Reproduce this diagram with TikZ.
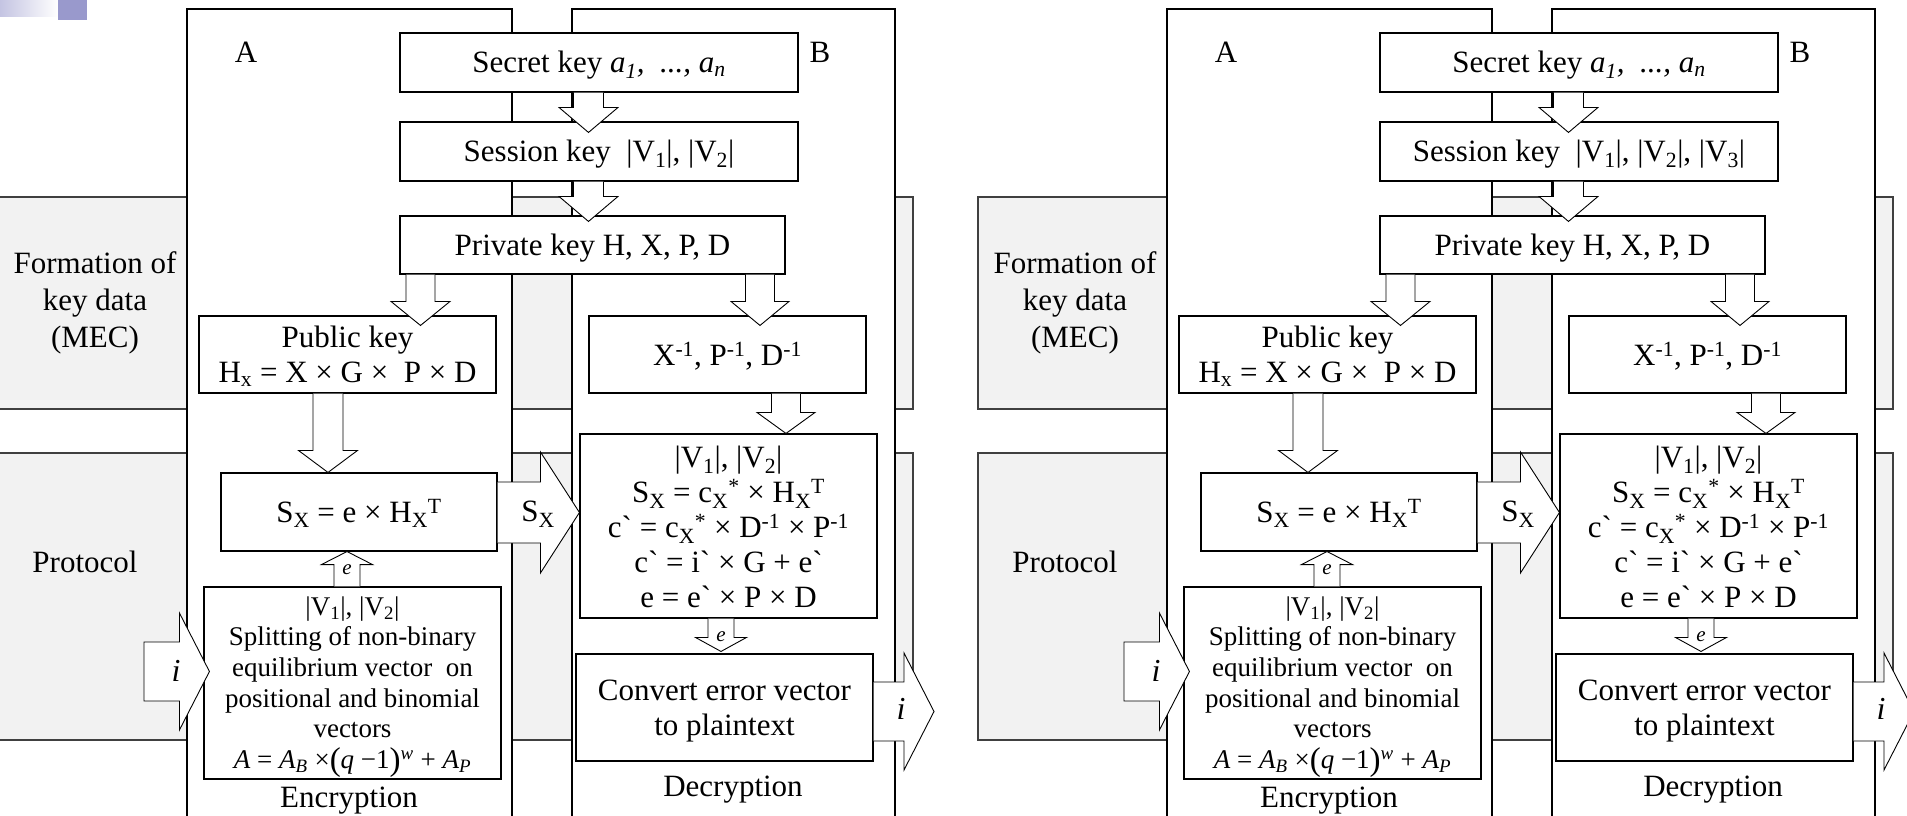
\documentclass[tikz,border=0pt]{standalone}
\usepackage{fontspec}
\setmainfont{Liberation Serif}
\newfontfamily\plainrm{Liberation Serif}
\usetikzlibrary{calc}

\definecolor{bandgray}{HTML}{F2F2F2}
\definecolor{bandedge}{HTML}{404040}
\definecolor{barlav}{HTML}{C4C4E2}
\definecolor{barsq}{HTML}{9999CC}

% small text helpers
\newcommand\grv{{\plainrm\symbol{96}}}
\newcommand\sbs[1]{\textsubscript{#1}}
\newcommand\sps[1]{\textsuperscript{#1}}
\newcommand\bigpar[1]{{\fontsize{33}{33}\selectfont\raisebox{-2pt}{#1}}}
% a line whose height is the capital height (optionally enlarged) and with no depth,
% so that boxes centre their text on the capitals
\newcommand\cl[2][0pt]{\raisebox{0pt}[\dimexpr\fontcharht\font`H+#1\relax][0pt]{#2}}
% a last line without depth
\newcommand\nd[1]{\raisebox{0pt}[\height][0pt]{#1}}

% vertical block arrow:
% #1 source anchor, #2 target anchor, #3 x of axis, #4 overshoot past target edge,
% #5 head length, #6 shaft half width, #7 head half width, #8 direction (1 down, -1 up)
\newcommand\vblock[8]{%
  \draw[blockarrow]
    ({#3-#6},0 |- #1)
    -- ($({#3-#6},0 |- #2)+(0,{#8*(#4-#5)})$)
    -- ($({#3-#7},0 |- #2)+(0,{#8*(#4-#5)})$)
    -- ($({#3},0 |- #2)+(0,{#8*(#4)})$)
    -- ($({#3+#7},0 |- #2)+(0,{#8*(#4-#5)})$)
    -- ($({#3+#6},0 |- #2)+(0,{#8*(#4-#5)})$)
    -- ({#3+#6},0 |- #1);
}

% right-pointing block arrow:
% #1 path ending, #2 source, #3 target, #4 y of axis, #5 overshoot,
% #6 head length, #7 shaft half width, #8 head half width
\newcommand\hblock[8][]{%
  \draw[blockarrow]
    (#2 |- 0,{#4-#7})
    -- ($(#3 |- 0,{#4-#7})+({#5-#6},0)$)
    -- ($(#3 |- 0,{#4-#8})+({#5-#6},0)$)
    -- ($(#3 |- 0,{#4})+({#5},0)$)
    -- ($(#3 |- 0,{#4+#8})+({#5-#6},0)$)
    -- ($(#3 |- 0,{#4+#7})+({#5-#6},0)$)
    -- (#2 |- 0,{#4+#7}) #1;
}

% one complete A/B scheme: #1 name prefix, #2 horizontal offset, #3 session key text
\newcommand\drawpanel[3]{%
  % stage bands
  \draw[band] ({#2-2},197) rectangle ({#2+913},409);
  \draw[band] ({#2-2},453) rectangle ({#2+913},740);
  \node[lbl] (#1form) at ({#2+95},300.6) {\cl{Formation of}\\key data\\\nd{(MEC)}};
  \node[lbl] (#1prot) at ({#2+85},562) {\cl{Protocol}};
  % party columns
  \draw[column] ({#2+187},9) rectangle ({#2+512},840);
  \draw[column] ({#2+572},9) rectangle ({#2+895},840);
  \node[lbl] (#1pa) at ({#2+246},52) {\cl{A}};
  \node[lbl] (#1pb) at ({#2+820},52) {\cl{B}};
  % key generation
  \node[kbox, minimum width=398pt, minimum height=59pt] (#1sec) at ({#2+599},62.5)
    {\cl{Secret key \textit{a\sbs{1},\ \ ..., a\sbs{n}}}};
  \node[kbox, minimum width=398pt, minimum height=59pt] (#1ses) at ({#2+599},151.5) {\cl{#3}};
  \node[kbox, minimum width=385pt, minimum height=58pt] (#1prv) at ({#2+592.5},245)
    {\cl{Private key H, X, P, D}};
  \node[kbox, minimum width=297pt, minimum height=77pt] (#1pub) at ({#2+347.5},354.5)
    {\cl[1pt]{Public key}\\\nd{H\sbs{x} = X × G ×\ \ P × D}};
  \node[kbox, minimum width=277pt, minimum height=77pt] (#1inv) at ({#2+727.5},354.5)
    {\cl[1pt]{X\sps{-1}, P\sps{-1}, D\sps{-1}}};
  % protocol
  \node[kbox, minimum width=276pt, minimum height=78pt] (#1sx) at ({#2+359},512)
    {\cl{S\sbs{X} = e × H\sbs{X}\sps{T}}};
  \node[kbox, font=\fontsize{27}{30.6}\selectfont, minimum width=297pt, minimum height=192pt]
    (#1enc) at ({#2+352.5},683)
    {\cl{|V\sbs{1}|, |V\sbs{2}|}\\Splitting of non-binary\\equilibrium vector\ \ on\\positional and binomial\\vectors\\
     \nd{\textit{A} = \textit{A}\sbs{\textit{B}} ×\bigpar{(}\textit{q} −1\bigpar{)}\sps{\textit{w}} + \textit{A}\sbs{\textit{P}}}};
  \node[kbox, minimum width=297pt, minimum height=184pt] (#1dec) at ({#2+728.5},526)
    {\cl[2.5pt]{|V\sbs{1}|, |V\sbs{2}|}\\S\sbs{X} = c\sbs{X}\sps{*} × H\sbs{X}\sps{T}\\
     c\grv{} = c\sbs{X}\sps{*} × D\sps{-1} × P\sps{-1}\\c\grv{} = i\grv{} × G + e\grv{}\\\nd{e = e\grv{} × P × D}};
  \node[kbox, minimum width=297pt, minimum height=107pt] (#1cnv) at ({#2+724.5},707.5)
    {\cl{Convert error vector}\\\nd{to plaintext}};
  \node[lbl] (#1encl) at ({#2+349},797.8) {\cl{Encryption}};
  \node[lbl] (#1decl) at ({#2+733},786) {\cl{Decryption}};
  \coordinate (#1in) at ({#2+144},671.5);
  \coordinate (#1out) at ({#2+934},711.5);
  % flows
  \vblock{#1sec.south}{#1ses.north}{#2+588.5}{11}{25}{15}{29.5}{1}
  \vblock{#1ses.south}{#1prv.north}{#2+588.5}{6}{25}{15}{29.5}{1}
  \vblock{#1prv.south}{#1pub.north}{#2+420.5}{10}{24}{14.5}{29.5}{1}
  \vblock{#1prv.south}{#1inv.north}{#2+760}{10}{24}{14.5}{29}{1}
  \vblock{#1pub.south}{#1sx.north}{#2+328}{0}{22}{15}{29.5}{1}
  \vblock{#1inv.south}{#1dec.north}{#2+786}{0}{21}{14.5}{29}{1}
  \vblock{#1enc.north}{#1sx.south}{#2+347}{0}{13}{13}{25.5}{-1}
  \vblock{#1dec.south}{#1cnv.north}{#2+721}{-2}{14}{13}{25.5}{1}
  \hblock[-- cycle]{#1in}{#1enc.west}{671.5}{6}{30}{29.5}{58.5}
  \hblock{#1sx.east}{#1dec.west}{512.5}{0}{39}{30.5}{60.5}
  \hblock{#1cnv.east}{#1out}{711.5}{0}{30}{29.5}{58.5}
  \node[elbl] (#1eup) at ({#2+347},570) {e};
  \node[elbl] (#1edn) at ({#2+721},637) {e};
  \node[ilbl] (#1iin) at ({#2+176},671) {\cl{i}};
  \node[ilbl] (#1iout) at ({#2+901},709.5) {\cl{i}};
  \node[lbl] (#1sxl) at ({#2+538},511.7) {\cl{S\sbs{X}}};
}

\begin{document}
\begin{tikzpicture}[x=1pt, y=-1pt,
  kbox/.style={draw=black, line width=1.1pt, fill=white, inner sep=0pt, align=center,
               font=\fontsize{31}{35}\selectfont},
  column/.style={draw=black, line width=1.1pt, fill=white},
  band/.style={fill=bandgray, draw=bandedge, line width=1.1pt},
  blockarrow/.style={draw=black, line width=0.9pt, fill=white, line join=miter},
  lbl/.style={inner sep=0pt, align=center, font=\fontsize{31}{36.9}\selectfont},
  elbl/.style={inner sep=0pt, font=\fontsize{21}{21}\selectfont\itshape},
  ilbl/.style={inner sep=0pt, font=\fontsize{32}{32}\selectfont\itshape}]
  \useasboundingbox (0,0) rectangle (1907,816);
  \fill[white] (0,0) rectangle (1907,816);
  \clip (0,0) rectangle (1907,816);
  % slide corner ornament
  \shade[left color=barlav, right color=white] (0,0) rectangle (58,17);
  \fill[barsq] (58,0) rectangle (87,20);
  \drawpanel{L}{0}{Session key\ \ |V\sbs{1}|, |V\sbs{2}|}
  \drawpanel{R}{980}{Session key\ \ |V\sbs{1}|, |V\sbs{2}|, |V\sbs{3}|}
\end{tikzpicture}
\end{document}
